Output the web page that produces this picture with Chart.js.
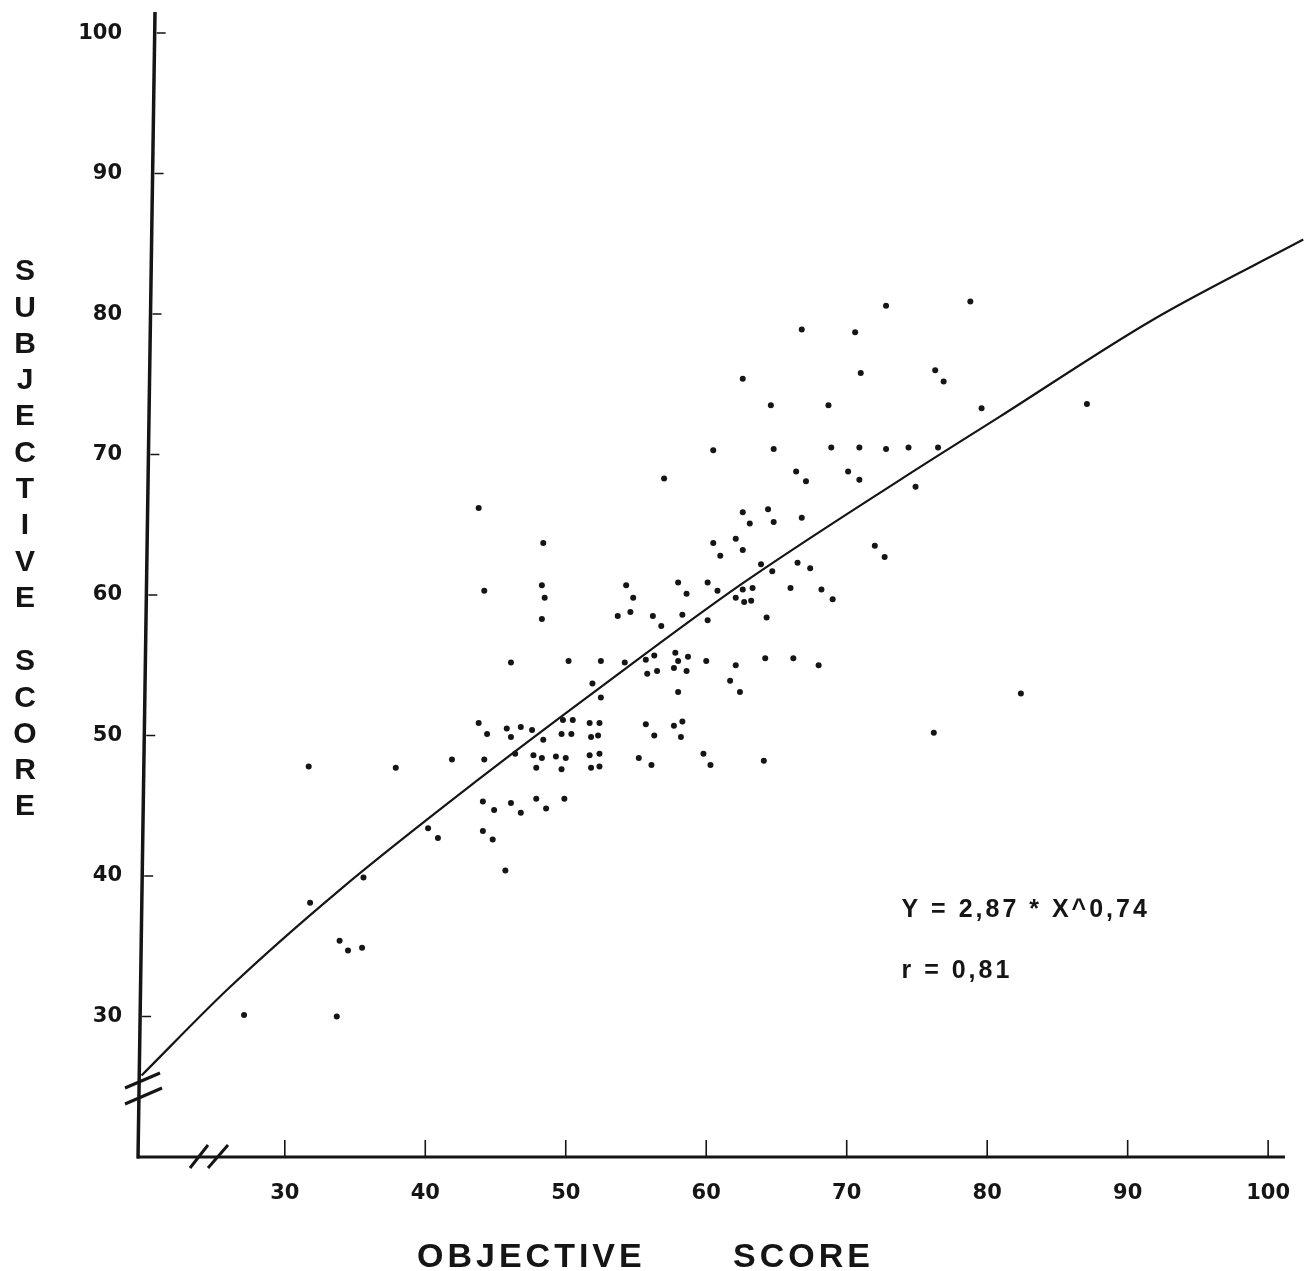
<!DOCTYPE html>
<html>
<head>
<meta charset="utf-8">
<script src="https://cdn.jsdelivr.net/npm/chart.js@4.4.1/dist/chart.umd.min.js"></script>
<style>
  html, body { margin: 0; padding: 0; background: #fff; }
  #wrap { width: 1309px; height: 1271px; position: relative; }
</style>
</head>
<body>
<div id="wrap"><canvas id="chart"></canvas></div>
<script>
// objective score (x) and subjective score (y) of each rated sample
const objectiveScore = [
  27.1, 31.7, 31.8, 33.9, 34.5, 35.5, 33.7, 35.6, 37.9, 41.9,
  44.2, 46.4, 40.2, 40.9, 44.1, 44.9, 46.1, 46.8, 44.1, 44.8,
  45.7, 43.8, 48.4, 44.2, 48.3, 48.5, 48.3, 46.1, 50.2, 52.5,
  54.3, 54.8, 54.6, 53.7, 56.2, 56.8, 58.0, 58.6, 58.3, 60.1,
  60.8, 60.5, 61.0, 62.1, 62.1, 60.1, 54.2, 55.7, 56.3, 55.8,
  56.5, 57.8, 58.0, 58.7, 57.7, 58.6, 58.0, 60.0, 62.1, 61.7,
  62.4, 51.9, 52.5, 43.8, 44.4, 45.8, 46.1, 46.8, 47.6, 48.4,
  47.7, 48.3, 47.9, 49.3, 50.0, 49.7, 49.8, 50.5, 49.7, 50.4,
  51.7, 52.4, 51.8, 52.3, 51.7, 52.4, 51.8, 52.4, 55.7, 56.3,
  57.7, 58.3, 58.2, 55.2, 56.1, 59.8, 60.3, 47.9, 48.6, 49.9,
  57.0, 60.5, 64.6, 68.7, 64.8, 68.9, 70.9, 72.8, 66.4, 67.1,
  70.1, 70.9, 62.6, 64.4, 63.1, 64.8, 66.8, 62.6, 63.9, 64.7,
  66.5, 67.4, 72.0, 72.7, 62.6, 63.3, 62.7, 63.2, 64.3, 66.0,
  68.2, 69.0, 64.2, 66.2, 68.0, 64.1, 62.6, 66.8, 70.6, 72.8,
  78.8, 71.0, 76.3, 76.9, 79.6, 87.1, 74.4, 76.5, 74.9, 82.4,
  76.2
];
const subjectiveScore = [
  30.1, 47.8, 38.1, 35.4, 34.7, 34.9, 30.0, 39.9, 47.7, 48.3,
  48.3, 48.7, 43.4, 42.7, 45.3, 44.7, 45.2, 44.5, 43.2, 42.6,
  40.4, 66.2, 63.7, 60.3, 60.7, 59.8, 58.3, 55.2, 55.3, 55.3,
  60.7, 59.8, 58.8, 58.5, 58.5, 57.8, 60.9, 60.1, 58.6, 60.9,
  60.3, 63.7, 62.8, 64.0, 59.8, 58.2, 55.2, 55.4, 55.7, 54.4,
  54.6, 55.9, 55.3, 55.6, 54.8, 54.6, 53.1, 55.3, 55.0, 53.9,
  53.1, 53.7, 52.7, 50.9, 50.1, 50.5, 49.9, 50.6, 50.4, 49.7,
  48.6, 48.4, 47.7, 48.5, 48.4, 47.6, 51.1, 51.1, 50.1, 50.1,
  50.9, 50.9, 49.9, 50.0, 48.6, 48.7, 47.7, 47.8, 50.8, 50.0,
  50.7, 51.0, 49.9, 48.4, 47.9, 48.7, 47.9, 45.5, 44.8, 45.5,
  68.3, 70.3, 73.5, 73.5, 70.4, 70.5, 70.5, 70.4, 68.8, 68.1,
  68.8, 68.2, 65.9, 66.1, 65.1, 65.2, 65.5, 63.2, 62.2, 61.7,
  62.3, 61.9, 63.5, 62.7, 60.4, 60.5, 59.5, 59.6, 58.4, 60.5,
  60.4, 59.7, 55.5, 55.5, 55.0, 48.2, 75.4, 78.9, 78.7, 80.6,
  80.9, 75.8, 76.0, 75.2, 73.3, 73.6, 70.5, 70.5, 67.7, 53.0,
  50.2
];

// fitted curve
const fitX = [19.8, 26.1, 33.9, 43.7, 52.3, 62.4, 73.8, 80.9, 91.8, 102.5];
const fitY = [25.8, 32.1, 39.0, 46.8, 53.3, 60.7, 68.2, 72.7, 79.6, 85.3];

const xTickValues = [30, 40, 50, 60, 70, 80, 90, 100];
const yTickValues = [30, 40, 50, 60, 70, 80, 90, 100];

const xTitleWords = ['OBJECTIVE', 'SCORE'];
const yTitleWords = ['SUBJECTIVE', 'SCORE'];
const fitText = 'Y = 2,87 * X^0,74';
const corrText = 'r = 0,81';

const INK = '#151515';
const tickFont = { family: "'DejaVu Sans', sans-serif", size: 21, weight: 'bold' };

// axes are drawn by hand: slightly leaning y axis, inward ticks, break marks
const drawingPlugin = {
  id: 'drawing',
  afterDraw(chart) {
    const { ctx, chartArea: a, scales: { x, y } } = chart;
    const lean = 17;
    const axisX = py => a.left + lean * (a.bottom - py) / (a.bottom - a.top);
    ctx.save();
    ctx.strokeStyle = INK;
    ctx.fillStyle = INK;

    // x axis
    ctx.lineWidth = 3;
    ctx.beginPath();
    ctx.moveTo(a.left - 1, a.bottom);
    ctx.lineTo(a.right, a.bottom);
    ctx.stroke();

    // y axis
    ctx.lineWidth = 3.5;
    ctx.beginPath();
    ctx.moveTo(a.left, a.bottom + 1.5);
    ctx.lineTo(a.left + lean, a.top);
    ctx.stroke();

    // tick marks
    ctx.lineWidth = 1.6;
    ctx.beginPath();
    xTickValues.forEach(v => {
      const px = x.getPixelForValue(v);
      ctx.moveTo(px, a.bottom);
      ctx.lineTo(px, a.bottom - 17);
    });
    yTickValues.forEach(v => {
      const py = y.getPixelForValue(v);
      const ax = axisX(py);
      ctx.moveTo(ax + 2, py);
      ctx.lineTo(ax + 11, py);
    });
    ctx.stroke();

    // axis breaks
    ctx.lineWidth = 3;
    ctx.beginPath();
    ctx.moveTo(a.left - 13, a.bottom - 69); ctx.lineTo(a.left + 22, a.bottom - 84);
    ctx.moveTo(a.left - 13, a.bottom - 53); ctx.lineTo(a.left + 24, a.bottom - 69);
    ctx.moveTo(a.left + 52, a.bottom + 11); ctx.lineTo(a.left + 70, a.bottom - 12);
    ctx.moveTo(a.left + 70, a.bottom + 11); ctx.lineTo(a.left + 90, a.bottom - 12);
    ctx.stroke();

    // axis titles
    ctx.font = "bold 30px 'Liberation Sans', Arial, sans-serif";
    ctx.textAlign = 'center';
    ctx.textBaseline = 'middle';
    let cy = 272;
    yTitleWords.forEach((word, w) => {
      if (w > 0) cy += 27;
      for (const ch of word) {
        ctx.fillText(ch, 25, cy);
        cy += 36.3;
      }
    });

    ctx.font = "bold 34px 'Liberation Sans', Arial, sans-serif";
    ctx.textAlign = 'left';
    ctx.textBaseline = 'alphabetic';
    if ('letterSpacing' in ctx) ctx.letterSpacing = '4px';
    ctx.fillText(xTitleWords[0], 417, 1267);
    ctx.fillText(xTitleWords[1], 733, 1267);

    // regression note
    ctx.font = "bold 25px 'Liberation Sans', Arial, sans-serif";
    if ('letterSpacing' in ctx) ctx.letterSpacing = '3px';
    ctx.fillText(fitText, x.getPixelForValue(73.9), 917);
    ctx.fillText(corrText, x.getPixelForValue(73.9), 978);
    ctx.restore();
  }
};

new Chart(document.getElementById('chart'), {
  type: 'scatter',
  data: {
    datasets: [
      {
        label: 'samples',
        data: objectiveScore.map((v, i) => ({ x: v, y: subjectiveScore[i] })),
        pointRadius: 3,
        pointBackgroundColor: INK,
        pointBorderWidth: 0,
        showLine: false,
      },
      {
        label: 'fit',
        data: fitX.map((v, i) => ({ x: v, y: fitY[i] })),
        showLine: true,
        pointRadius: 0,
        borderColor: INK,
        borderWidth: 2.2,
        cubicInterpolationMode: 'monotone',
        clip: false,
      }
    ]
  },
  options: {
    responsive: true,
    maintainAspectRatio: false,
    animation: false,
    layout: { padding: { top: 12, right: 24, left: 0, bottom: 0 } },
    plugins: {
      legend: { display: false },
      tooltip: { enabled: false },
    },
    scales: {
      x: {
        type: 'linear',
        min: 19.55,
        max: 101.2,
        afterBuildTicks: s => { s.ticks = xTickValues.map(v => ({ value: v })); },
        afterFit: s => { s.height = 114; s.paddingLeft = 0; s.paddingRight = 0; },
        grid: { display: false, drawTicks: false },
        border: { display: false },
        ticks: { font: tickFont, color: INK, padding: 24, maxRotation: 0, autoSkip: false },
      },
      y: {
        type: 'linear',
        min: 20,
        max: 101.5,
        afterBuildTicks: s => { s.ticks = yTickValues.map(v => ({ value: v })); },
        afterFit: s => { s.width = 138; s.paddingTop = 0; s.paddingBottom = 0; },
        grid: { display: false, drawTicks: false },
        border: { display: false },
        ticks: { font: tickFont, color: INK, padding: 16 },
      }
    }
  },
  plugins: [drawingPlugin]
});
</script>
</body>
</html>
